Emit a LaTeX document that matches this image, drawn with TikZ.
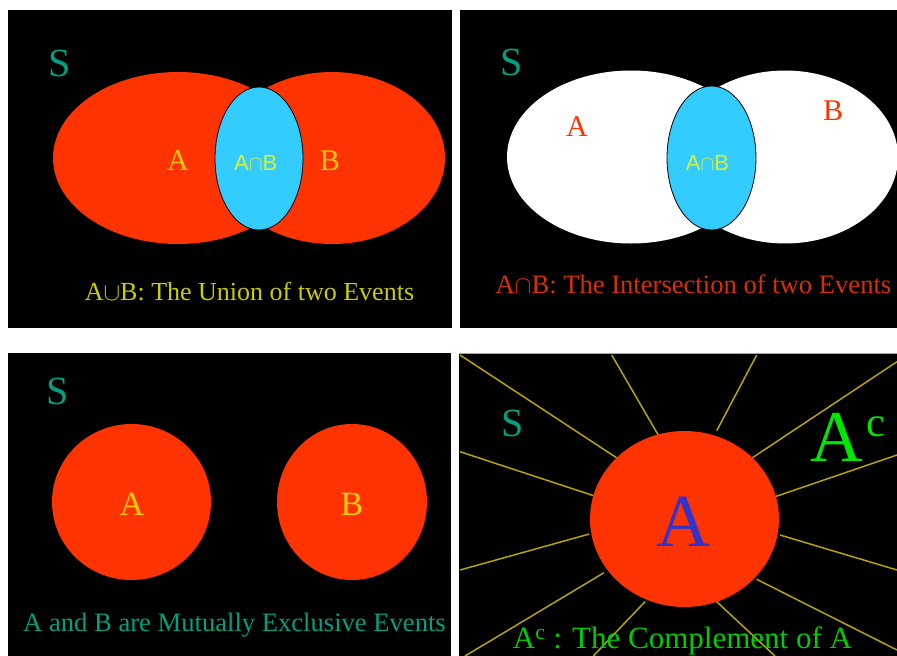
\documentclass[tikz,border=0pt]{standalone}
\usepackage{fontspec}
\setmainfont{Liberation Serif}
\setsansfont{Liberation Sans}
\usetikzlibrary{shapes.geometric}
\definecolor{vred}{HTML}{FF3300}
\definecolor{vcyan}{HTML}{33CCFF}
\definecolor{vteal}{HTML}{00A080}
\definecolor{vgold}{HTML}{FFCC00}
\definecolor{vlime}{HTML}{D4F03C}
\definecolor{vyell}{HTML}{CCCC00}
\definecolor{vdred}{HTML}{D83000}
\definecolor{vgreen}{HTML}{00CC00}
\definecolor{vbgreen}{HTML}{00E600}
\definecolor{vblue}{HTML}{3333CC}
\definecolor{vray}{HTML}{B8A400}
\begin{document}
\begin{tikzpicture}[x=1pt,y=-1pt,
  panel/.style={fill=black},
  blob/.style={ellipse, inner sep=0pt, outer sep=0pt},
  slabel/.style={anchor=base, inner sep=0pt, text=vteal, font=\fontsize{40}{40}\selectfont},
  lab/.style={anchor=base, inner sep=0pt, font=\fontsize{30}{30}\selectfont},
  inter/.style={anchor=base, inner sep=0pt, text=vlime, font=\sffamily\fontsize{22}{22}\selectfont},
  caption/.style={anchor=base, inner sep=0pt, font=\fontsize{26}{26}\selectfont},
  ray/.style={draw=vray, line width=1.5pt}]
\useasboundingbox (0,0) rectangle (897,656);
\fill[white] (0,0) rectangle (897,656);

% ---------- Panel 1: union ----------
\fill[panel] (8,10) rectangle (452,328);
\node[blob, fill=vred, minimum width=250pt, minimum height=172pt] (A1) at (178,158) {};
\node[blob, fill=vred, minimum width=226pt, minimum height=172pt] (B1) at (332,158) {};
\node[blob, fill=vcyan, draw=black, line width=0.8pt, minimum width=88pt, minimum height=143pt] (AB1) at (259,158.5) {};
\node[slabel] (S1) at (60,76.7) {S};
\node[lab, text=vgold] (LA1) at (178,170) {A};
\node[lab, text=vgold] (LB1) at (330,170) {B};
\node[inter] (LI1) at (255.8,170.7) {A$\cap$B};
\node[caption, text=vyell] (C1) at (249.5,300) {A$\cup$B: The Union of two Events};

% ---------- Panel 2: intersection ----------
\fill[panel] (460,10) rectangle (897,328);
\begin{scope}
\clip (460,10) rectangle (897,328);
\node[blob, fill=white, minimum width=248pt, minimum height=173pt] (A2) at (631,157) {};
\node[blob, fill=white, minimum width=226pt, minimum height=173pt] (B2) at (785,157) {};
\end{scope}
\node[blob, fill=vcyan, draw=black, line width=0.8pt, minimum width=89pt, minimum height=144pt] (AB2) at (711.5,158) {};
\node[slabel] (S2) at (512,75) {S};
\node[lab, text=vred] (LA2) at (577,136.7) {A};
\node[lab, text=vred] (LB2) at (833,120) {B};
\node[inter] (LI2) at (707.5,170) {A$\cap$B};
\node[caption, text=vdred, font=\fontsize{26.6}{26.6}\selectfont] (C2) at (693.5,293.3) {A$\cap$B: The Intersection of two Events};

% ---------- Panel 3: mutually exclusive ----------
\fill[panel] (8,353) rectangle (451,656);
\node[blob, fill=vred, minimum width=159pt, minimum height=156pt] (A3) at (131.5,502) {};
\node[blob, fill=vred, minimum width=150pt, minimum height=156pt] (B3) at (352,502) {};
\node[slabel] (S3) at (58,404) {S};
\node[lab, text=vgold, font=\fontsize{34}{34}\selectfont] (LA3) at (132,515) {A};
\node[lab, text=vgold, font=\fontsize{34}{34}\selectfont] (LB3) at (352,515) {B};
\node[caption, text=vteal, font=\fontsize{26.6}{26.6}\selectfont] (C3) at (234.5,631.7) {A and B are Mutually Exclusive Events};

% ---------- Panel 4: complement ----------
\fill[panel] (459,353) rectangle (897,656);
\draw[gray!70, line width=1pt] (459,353.5) -- (897,353.5);
\begin{scope}
\clip (459,354) rectangle (897,656);
\draw[ray] (460,355) -- (620,460);
\draw[ray] (611.7,355) -- (660,438);
\draw[ray] (756.7,355) -- (716.7,430.7);
\draw[ray] (897,361.7) -- (750,459.3);
\draw[ray] (460,451.7) -- (596.7,496.7);
\draw[ray] (897,455) -- (775,496.7);
\draw[ray] (460,570) -- (589.3,534);
\draw[ray] (780,535) -- (897,570);
\draw[ray] (465,656) -- (604,572.7);
\draw[ray] (756.7,579.3) -- (897,650);
\draw[ray] (645,601.7) -- (593.3,656);
\draw[ray] (716.7,601.7) -- (775,656);
\end{scope}
\node[blob, fill=vred, minimum width=189pt, minimum height=176pt] (A4) at (684.5,519) {};
\node[slabel] (S4) at (513,436.7) {S};
\node[lab, text=vblue, font=\fontsize{75}{75}\selectfont] (LA4) at (683.3,546.7) {A};
\node[anchor=base west, inner sep=0pt, text=vbgreen, font=\fontsize{73}{73}\selectfont] (AC) at (810,461.7)
  {A\hspace{4pt}\raisebox{25pt}{\fontsize{42}{42}\selectfont c}};
\node[caption, text=vgreen, font=\fontsize{31}{31}\selectfont] (C4) at (682.5,648.3)
  {A\textsuperscript{c} : The Complement of A};
\end{tikzpicture}
\end{document}
